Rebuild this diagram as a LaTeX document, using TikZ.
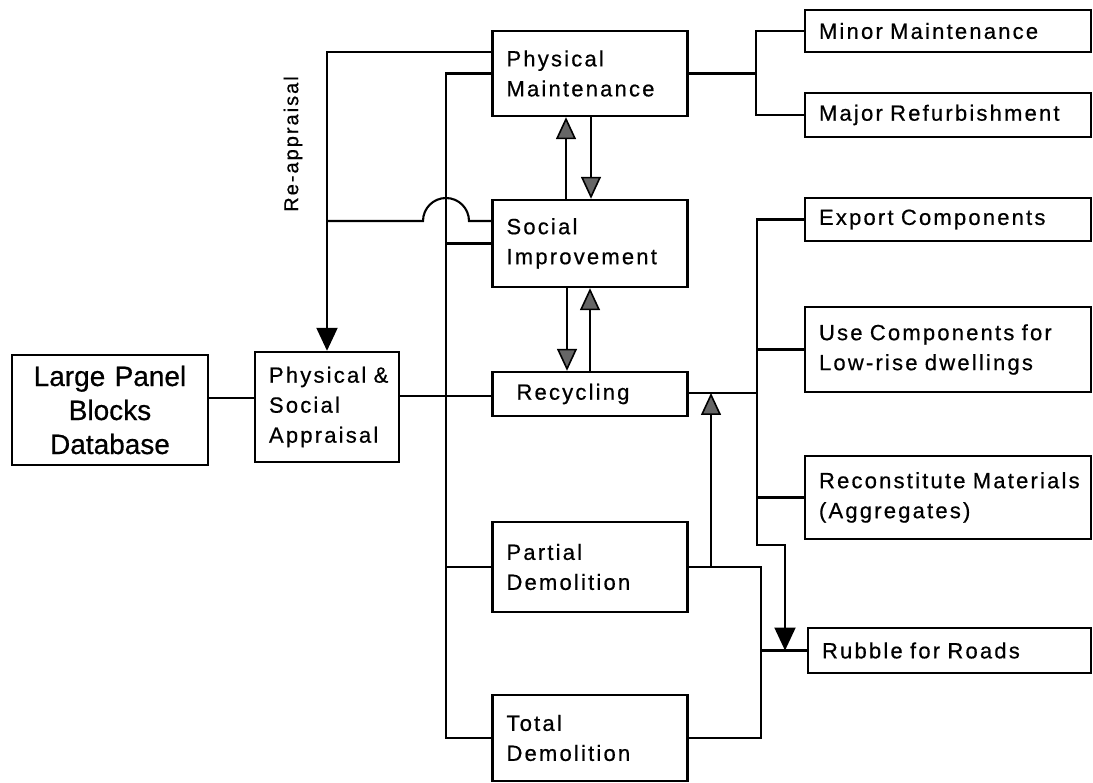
\documentclass[tikz,border=0pt]{standalone}
\usepackage{fontspec}
\setmainfont{Liberation Sans}[LetterSpace=10,FakeBold=0.6]
\newfontfamily\widefont{Liberation Sans}[FakeBold=0.6]
\usetikzlibrary{arrows.meta}

\begin{document}
\begin{tikzpicture}[x=1pt,y=-1pt,
  box/.style={draw,line width=2.4pt,inner xsep=14pt,inner ysep=0pt,align=left,text width=#1,font=\fontsize{22}{30}\selectfont},
  link/.style={line width=2.1pt},
  ghead/.style={line width=1.6pt,-{Triangle[width=20pt,length=22pt,fill=black!60]}},
  bhead/.style={line width=2.1pt,-{Triangle[width=21pt,length=23pt]}}]
\useasboundingbox (0,0) rectangle (1093,783);
% database and appraisal
\node[box=168pt,align=center,minimum height=110pt,font=\widefont\fontsize{28}{34}\selectfont] (lpb) at (110,410) {Large Panel\hspace*{14pt}\\Blocks\hspace*{14pt}\\Database\hspace*{18pt}};
\node[box=116pt,minimum height=110pt] (psa) at (327,407) {Physical~\&\\Social\\Appraisal};
% options
\node[box=167pt,minimum height=85pt] (pm) at (590,73.5) {Physical\\Maintenance};
\node[box=167pt,minimum height=87pt] (si) at (590,243.5) {Social\\Improvement};
\node[box=167pt,minimum height=44pt] (rec) at (590,394) {\hspace*{10pt}Recycling};
\node[box=167pt,minimum height=90pt] (pd) at (590,567) {Partial\\Demolition};
\node[box=167pt,minimum height=86pt] (td) at (590,738) {Total\\Demolition};
% outcomes
\node[box=258pt,minimum height=42pt] (minor) at (948,31) {Minor Maintenance};
\node[box=258pt,minimum height=44pt] (major) at (948,115) {Major Refurbishment};
\node[box=258pt,minimum height=43pt] (exp) at (948,219.5) {Export Components};
\node[box=258pt,minimum height=85pt] (use) at (948,349.5) {Use~Components~for\\Low-rise dwellings};
\node[box=258pt,minimum height=83pt] (rcm) at (948,497.5) {Reconstitute~Materials\\(Aggregates)};
\node[box=255pt,minimum height=45pt] (rub) at (949.5,650.5) {Rubble for Roads};

\draw[link] ([yshift=12pt]lpb.east) -- ([yshift=9pt]psa.west);
\draw[link] ([yshift=11pt]psa.east) -- ([yshift=-2pt]rec.west);

% re-appraisal loop
\draw[bhead] (pm.west |- 0,52) -| (psa.north);
\draw[link] (si.west |- 0,221) -- (469,221) arc[start angle=0,end angle=-180,radius=23] -- (psa.north |- 0,221);
\node[rotate=90,font=\fontsize{20}{24}\selectfont] (reap) at (293,144) {Re-appraisal};

% bus to options
\coordinate (bus) at (446,0);
\draw[link] (pm.west) -- (bus |- pm.west) -- (bus |- td.west) -- (td.west);
\draw[link] (si.west) -- (bus |- si.west);
\draw[link] (pd.west) -- (bus |- pd.west);

% two-way arrows
\draw[ghead] ([xshift=-24pt]si.north) -- ([xshift=-24pt]pm.south);
\draw[ghead] ([xshift=1pt]pm.south) -- ([xshift=1pt]si.north);
\draw[ghead] ([xshift=-23pt]si.south) -- ([xshift=-23pt]rec.north);
\draw[ghead] (rec.north) -- (si.south);

% maintenance outcomes
\coordinate (pmR) at (756,0);
\draw[link] (pm.east) -- (pmR |- pm.east);
\draw[link] (minor.west) -- (pmR |- minor.west) -- (pmR |- major.west) -- (major.west);

% recycling outcomes
\coordinate (recR) at (757,0);
\coordinate (rubA) at (785,0);
\draw[link] ([yshift=1pt]rec.east) -- (recR |- 0,393);
\draw[bhead] (exp.west) -- (recR |- exp.west) -- (recR |- 0,545) -| (rubA |- rub.west);
\draw[link] (use.west) -- (recR |- use.west);
\draw[link] (rcm.west) -- (recR |- rcm.west);

% demolition outcomes
\coordinate (demR) at (761,0);
\coordinate (upx) at (711,0);
\draw[link] (pd.east) -- (demR |- pd.east) -- (demR |- td.east) -- (td.east);
\draw[link] (demR |- rub.west) -- (rub.west);
\draw[ghead] (upx |- pd.east) -- (upx |- 0,393);
\end{tikzpicture}
\end{document}
